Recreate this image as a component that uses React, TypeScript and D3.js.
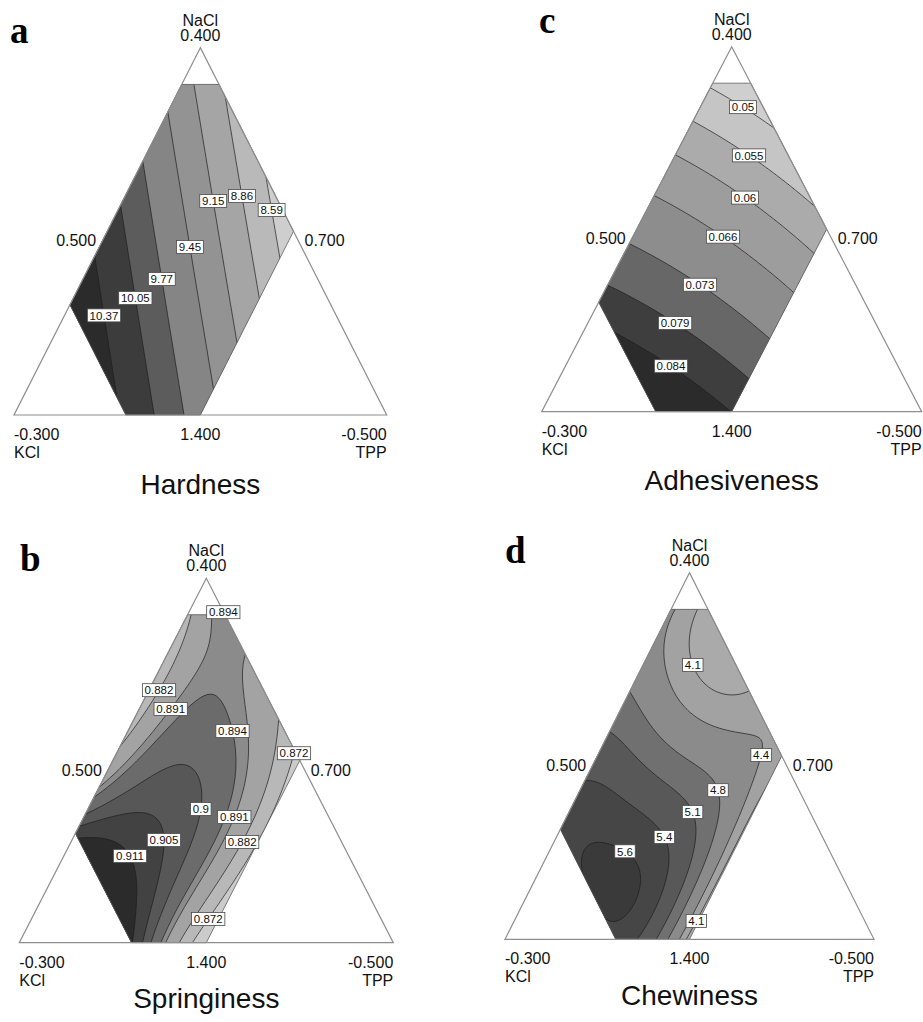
import React from "react";
import * as d3 from "d3";

// upper limits of the constrained mixture region (pseudo-components): NaCl, KCl, TPP
const upperBounds = [0.9, 0.7, 0.5];

const vertexNames = ["NaCl", "KCl", "TPP"];
const edgeTicks = ["0.400", "0.500", "0.700", "-0.300", "1.400", "-0.500"];

// ---- Hardness (a) ----
const hardnessLevels = [8.59, 8.86, 9.15, 9.45, 9.77, 10.05, 10.37];
// [level, [[NaCl, TPP], ...]]
const hardnessTraces: [number, [number, number][]][] = [
  [10.37, [[0.427, 0], [0.272, 0.104], [0.231, 0.133], [0.005, 0.295]]],
  [10.05, [[0.572, 0], [0.319, 0.168], [0.231, 0.222], [0, 0.368]]],
  [9.77, [[0.687, 0], [0.531, 0.107], [0.369, 0.219], [0.231, 0.303], [0, 0.443]]],
  [9.45, [[0.82, 0], [0.64, 0.12], [0.458, 0.243], [0.272, 0.368], [0.082, 0.493]]],
  [9.15, [[0.903, 0.038], [0.749, 0.136], [0.583, 0.238], [0.395, 0.369], [0.212, 0.498]]],
  [8.86, [[0.839, 0.155], [0.597, 0.312], [0.325, 0.496]]],
  [8.59, [[0.672, 0.324], [0.558, 0.412], [0.438, 0.496]]],
];
const hardnessSpots: [number, number, number][] = [];
const hardnessLabels: [string, number, number][] = [
  ["10.37", 0.272, 0.108], ["10.05", 0.318, 0.166], ["9.77", 0.369, 0.212],
  ["9.45", 0.458, 0.243], ["9.15", 0.583, 0.239], ["8.86", 0.597, 0.313], ["8.59", 0.558, 0.412],
];

// ---- Springiness (b) ----
const springLevels = [0.872, 0.882, 0.891, 0.894, 0.9, 0.905, 0.911];
const springTraces: [number, [number, number][]][] = [
  [0.911, [[0.294, 0.024], [0.291, 0.097], [0.27, 0.165], [0.218, 0.212], [0.14, 0.249], [0.058, 0.278], [0, 0.305]]],
  [0.905, [[0.328, 0], [0.337, 0.075], [0.328, 0.168], [0.296, 0.228], [0.232, 0.276], [0.14, 0.311], [0.058, 0.32], [0, 0.327]]],
  [0.9, [[0.355, 0], [0.405, 0.04], [0.442, 0.093], [0.465, 0.162], [0.451, 0.226], [0.396, 0.276], [0.305, 0.318], [0.195, 0.346], [0.085, 0.351], [0, 0.349]]],
  [0.894, [[0.383, 0.003], [0.488, 0.043], [0.565, 0.093], [0.634, 0.148], [0.669, 0.194], [0.634, 0.251], [0.561, 0.306], [0.469, 0.355], [0.396, 0.381], [0.323, 0.389], [0.241, 0.385], [0.149, 0.377], [0.058, 0.374], [0, 0.376]]],
  [0.894, [[0.9, 0.088], [0.886, 0.114]]],
  [0.891, [[0.899, 0.055], [0.817, 0.084], [0.726, 0.098], [0.639, 0.097], [0.579, 0.068], [0.506, 0.034], [0.442, 0.013], [0.41, 0]]],
  [0.891, [[0.876, 0.121], [0.79, 0.2], [0.689, 0.268], [0.579, 0.329], [0.469, 0.38], [0.378, 0.408], [0.25, 0.394], [0.149, 0.386], [0.058, 0.383], [0, 0.398]]],
  [0.882, [[0.899, 0.016], [0.817, 0.032], [0.693, 0.025], [0.597, 0.015], [0.5, 0]]],
  [0.882, [[0.62, 0.376], [0.524, 0.408], [0.414, 0.437], [0.273, 0.467], [0.195, 0.457], [0.122, 0.44], [0.058, 0.427], [0, 0.42]]],
  [0.872, [[0.52, 0.473], [0.451, 0.489], [0.273, 0.494], [0.177, 0.485], [0.071, 0.468], [0, 0.465]]],
];
const springSpots: [number, number, number][] = [
  [0.15, 0.18, 0.915], [0, 0.3, 0.912], [0.9, 0, 0.879], [0.7, 0, 0.879], [0, 0.5, 0.862],
  [0.5, 0.5, 0.868], [0.36, 0.2, 0.902], [0.55, 0.2, 0.897], [0.75, 0.15, 0.8925], [0.9, 0.1, 0.8955],
];
const springLabels: [string, number, number][] = [
  ["0.894", 0.907, 0.092], ["0.882", 0.693, 0.025], ["0.891", 0.634, 0.095], ["0.894", 0.581, 0.282],
  ["0.872", 0.52, 0.473], ["0.9", 0.369, 0.29], ["0.891", 0.346, 0.399], ["0.882", 0.273, 0.467],
  ["0.905", 0.282, 0.249], ["0.911", 0.245, 0.187], ["0.872", 0.071, 0.461],
];

// ---- Adhesiveness (c) ----
const adhesLevels = [0.05, 0.055, 0.06, 0.066, 0.073, 0.079, 0.084];
const adhesTraces: [number, [number, number][]][] = [
  [0.05, [[0.886, 0], [0.84, 0.115], [0.753, 0.255]]],
  [0.055, [[0.795, 0.002], [0.701, 0.194], [0.557, 0.449]]],
  [0.06, [[0.703, 0], [0.587, 0.241], [0.434, 0.502]]],
  [0.066, [[0.589, 0.003], [0.479, 0.238], [0.324, 0.505]]],
  [0.073, [[0.461, 0.006], [0.35, 0.242], [0.196, 0.503]]],
  [0.079, [[0.347, 0], [0.242, 0.23], [0.087, 0.5]]],
  [0.084, [[0.205, 0.103], [0.128, 0.278], [0.009, 0.487]]],
];
const adhesSpots: [number, number, number][] = [];
const adhesLabels: [string, number, number][] = [
  ["0.05", 0.84, 0.115], ["0.055", 0.701, 0.194], ["0.06", 0.587, 0.241], ["0.066", 0.479, 0.238],
  ["0.073", 0.35, 0.242], ["0.079", 0.242, 0.23], ["0.084", 0.128, 0.278],
];

// ---- Chewiness (d) ----
const chewLevels = [4.1, 4.4, 4.8, 5.1, 5.4, 5.6];
const chewTraces: [number, [number, number][]][] = [
  [4.1, [[0.903, 0.059], [0.853, 0.071], [0.798, 0.093], [0.748, 0.129], [0.707, 0.175], [0.68, 0.225], [0.666, 0.286], [0.666, 0.331]]],
  [4.1, [[0.3, 0.493], [0.2, 0.49], [0.1, 0.488], [0, 0.488]]],
  [4.4, [[0.898, 0.012], [0.835, 0.021], [0.762, 0.048], [0.689, 0.103], [0.635, 0.175], [0.589, 0.261], [0.562, 0.338], [0.516, 0.424], [0.471, 0.451], [0.38, 0.47], [0.289, 0.475], [0.198, 0.475], [0.107, 0.474], [0, 0.474]]],
  [4.8, [[0.689, 0.004], [0.616, 0.058], [0.562, 0.13], [0.507, 0.229], [0.471, 0.312], [0.407, 0.368], [0.334, 0.411], [0.244, 0.443], [0.153, 0.452], [0.062, 0.452], [0, 0.454]]],
  [5.1, [[0.571, 0], [0.525, 0.058], [0.471, 0.14], [0.426, 0.225], [0.38, 0.293], [0.339, 0.333], [0.289, 0.365], [0.198, 0.402], [0.107, 0.411], [0, 0.409]]],
  [5.4, [[0.416, 0], [0.398, 0.077], [0.371, 0.162], [0.325, 0.239], [0.278, 0.286], [0.216, 0.321], [0.125, 0.348], [0.053, 0.353], [0, 0.361]]],
  [5.6, [[0.216, 0.082], [0.262, 0.09], [0.28, 0.136], [0.269, 0.199], [0.216, 0.249], [0.171, 0.276], [0.116, 0.29], [0.08, 0.281], [0.062, 0.249]]],
];
const chewSpots: [number, number, number][] = [
  [0.17, 0.19, 5.72], [0.9, 0.1, 3.95], [0.8, 0.2, 3.95], [0.9, 0, 4.5], [0, 0.5, 3.9],
  [0.5, 0.5, 4.25], [0.6, 0.4, 4.25], [0.3, 0, 5.5], [0, 0.3, 5.5],
];
const chewLabels: [string, number, number][] = [
  ["4.1", 0.748, 0.136], ["4.4", 0.505, 0.437], ["4.8", 0.405, 0.369], ["5.1", 0.344, 0.329],
  ["5.4", 0.278, 0.289], ["5.6", 0.268, 0.21], ["4.1", 0.054, 0.483],
];

// layout + greys (low value -> high value)
const panels = [
  { letter: "a", title: "Hardness", levels: hardnessLevels, traces: hardnessTraces, spots: hardnessSpots, labels: hardnessLabels, degree: 2,
    left: 14, right: 386.7, base: 415, apex: 47.7, letterX: 10, letterY: 43, titleY: 494,
    greys: ["#cecece", "#b9b9b9", "#a5a5a5", "#939393", "#858585", "#5c5c5c", "#3c3c3c", "#2b2b2b"] },
  { letter: "b", title: "Springiness", levels: springLevels, traces: springTraces, spots: springSpots, labels: springLabels, degree: 4,
    left: 19.3, right: 393.3, base: 942.7, apex: 578.3, letterX: 20, letterY: 571, titleY: 1008,
    greys: ["#cbcbcb", "#b8b8b8", "#a3a3a3", "#8b8b8b", "#6b6b6b", "#575757", "#424242", "#2b2b2b"] },
  { letter: "c", title: "Adhesiveness", levels: adhesLevels, traces: adhesTraces, spots: adhesSpots, labels: adhesLabels, degree: 2,
    left: 541.7, right: 921.7, base: 411.7, apex: 46.7, letterX: 539, letterY: 33, titleY: 490,
    greys: ["#cfcfcf", "#c5c5c5", "#ababab", "#9d9d9d", "#8d8d8d", "#676767", "#3e3e3e", "#2b2b2b"] },
  { letter: "d", title: "Chewiness", levels: chewLevels, traces: chewTraces, spots: chewSpots, labels: chewLabels, degree: 4,
    left: 505, right: 874, base: 939.3, apex: 572.7, letterX: 505, letterY: 563, titleY: 1005,
    greys: ["#aaaaaa", "#a2a2a2", "#8b8b8b", "#707070", "#585858", "#464646", "#3a3a3a"] },
];

const sans = "'Liberation Sans', Arial, sans-serif";

// least squares polynomial surface in the triangle plane (X = TPP + NaCl/2, Y = NaCl)
function fitSurface(samples: number[][], degree: number) {
  const terms: number[][] = [];
  for (let d = 0; d <= degree; d++) for (let q = 0; q <= d; q++) terms.push([d - q, q]);
  const m = terms.length;
  const feat = (X: number, Y: number) => {
    const u = X - 0.45, v = Y - 0.45;
    return terms.map(([a, b]) => Math.pow(u, a) * Math.pow(v, b));
  };
  const A = terms.map(() => new Array(m).fill(0));
  const rhs = new Array(m).fill(0);
  samples.forEach(([X, Y, val]) => {
    const f = feat(X, Y);
    for (let i = 0; i < m; i++) {
      rhs[i] += f[i] * val;
      for (let j = 0; j < m; j++) A[i][j] += f[i] * f[j];
    }
  });
  for (let i = 0; i < m; i++) A[i][i] += 1e-9;
  // gaussian elimination
  for (let c = 0; c < m; c++) {
    let piv = c;
    for (let r = c + 1; r < m; r++) if (Math.abs(A[r][c]) > Math.abs(A[piv][c])) piv = r;
    [A[c], A[piv]] = [A[piv], A[c]];
    [rhs[c], rhs[piv]] = [rhs[piv], rhs[c]];
    for (let r = c + 1; r < m; r++) {
      const k = A[r][c] / A[c][c];
      for (let j = c; j < m; j++) A[r][j] -= k * A[c][j];
      rhs[r] -= k * rhs[c];
    }
  }
  const coef = new Array(m).fill(0);
  for (let r = m - 1; r >= 0; r--) {
    let s = rhs[r];
    for (let j = r + 1; j < m; j++) s -= A[r][j] * coef[j];
    coef[r] = s / A[r][r];
  }
  return (X: number, Y: number) => {
    const f = feat(X, Y);
    let s = 0;
    for (let i = 0; i < m; i++) s += coef[i] * f[i];
    return s;
  };
}

const textWidth = (s: string, size: number) =>
  s.split("").reduce((w, ch) => w + (ch === "." ? 0.278 : ch === "-" ? 0.333 : 0.556), 0) * size;

function Panel({ p }: { p: any }) {
  const x = d3.scaleLinear().domain([0, 1]).range([p.left, p.right]);
  const y = d3.scaleLinear().domain([0, 1]).range([p.base, p.apex]);
  const pt = (n: number, t: number) => [x(t + n / 2), y(n)];

  const samples: number[][] = [];
  p.traces.forEach(([lv, pts]: any) => pts.forEach(([n, t]: number[]) => samples.push([t + n / 2, n, lv])));
  p.spots.forEach(([n, t, v]: number[]) => samples.push([t + n / 2, n, v]));
  const surface = fitSurface(samples, p.degree);

  const pad = 4;
  const ox = Math.floor(p.left) - pad, oy = Math.floor(p.apex) - pad;
  const cols = Math.ceil(p.right) + pad - ox + 1;
  const rows = Math.ceil(p.base) + pad - oy + 1;
  const values: number[] = new Array(cols * rows);
  for (let j = 0; j < rows; j++)
    for (let i = 0; i < cols; i++) values[j * cols + i] = surface(x.invert(ox + i), y.invert(oy + j));
  const contours = d3.contours().size([cols, rows]).thresholds(p.levels)(values);
  const proj = d3.geoTransform({
    point(gx: number, gy: number) {
      (this as any).stream.point(ox + gx - 0.5, oy + gy - 0.5);
    },
  });
  const path = d3.geoPath(proj as any);

  const [nMax, kMax, tMax] = upperBounds;
  const regionPts = [[nMax, 0], [nMax, 1 - nMax], [1 - tMax, tMax], [0, tMax], [0, 1 - kMax], [1 - kMax, 0]].map(([n, t]) => pt(n, t));
  const regionD = "M" + regionPts.map((q) => q.join(",")).join("L") + "Z";
  const tri = [pt(1, 0), pt(0, 0), pt(0, 1)];
  const triD = "M" + tri.map((q) => q.join(",")).join("L") + "Z";
  const clipId = "clip-" + p.letter;

  // place labels on the nearest point of their contour
  const labels = p.labels.map(([txt, n, t]: any) => {
    const idx = p.levels.indexOf(+txt);
    const a = pt(n, t);
    let best = a, bd = 625;
    contours[idx].coordinates.forEach((poly: any) =>
      poly.forEach((ring: any) =>
        ring.forEach(([gx, gy]: number[]) => {
          const q = [ox + gx - 0.5, oy + gy - 0.5];
          const d = (q[0] - a[0]) ** 2 + (q[1] - a[1]) ** 2;
          if (d < bd && d3.polygonContains(regionPts as any, q as any)) { bd = d; best = q; }
        })
      )
    );
    return { txt, pos: best };
  });

  const apex = pt(1, 0), left = pt(0, 0), right = pt(0, 1);
  const leftMid = pt(0.5, 0), rightMid = pt(0.5, 0.5), baseMid = pt(0, 0.5);
  const fs = 16;
  return (
    <g>
      <defs>
        <clipPath id={clipId}><path d={regionD} /></clipPath>
      </defs>
      <path d={triD} fill="#fff" stroke="none" />
      <g clipPath={`url(#${clipId})`}>
        <path d={regionD} fill={p.greys[0]} />
        {contours.map((c: any, i: number) => (
          <path key={"f" + i} d={path(c) || ""} fill={p.greys[i + 1]} stroke="none" />
        ))}
        {contours.map((c: any, i: number) => (
          <path key={"s" + i} d={path(c) || ""} fill="none" stroke="#1e1e1e" strokeWidth={0.7} />
        ))}
      </g>
      <path d={regionD} fill="none" stroke="#5a5a5a" strokeWidth={0.8} />
      <path d={triD} fill="none" stroke="#8e8e8e" strokeWidth={1.2} />
      {labels.map((l: any, i: number) => {
        const w = textWidth(l.txt, 11.5) + 4.5;
        return (
          <g key={"l" + i} transform={`translate(${l.pos[0]},${l.pos[1]})`}>
            <rect x={-w / 2} y={-6.5} width={w} height={13} fill="#fff" stroke="#4a4a4a" strokeWidth={0.8} />
            <text x={0} y={4.2} textAnchor="middle" fontFamily={sans} fontSize={11.5} fill="#111">{l.txt}</text>
          </g>
        );
      })}
      <g fontFamily={sans} fontSize={fs} fill="#111">
        <text x={apex[0]} y={apex[1] - 22} textAnchor="middle">{vertexNames[0]}</text>
        <text x={apex[0]} y={apex[1] - 7} textAnchor="middle">{edgeTicks[0]}</text>
        <text x={leftMid[0] - 11} y={leftMid[1] + 15} textAnchor="end">{edgeTicks[1]}</text>
        <text x={rightMid[0] + 11} y={rightMid[1] + 15} textAnchor="start">{edgeTicks[2]}</text>
        <text x={left[0]} y={left[1] + 25} textAnchor="start">{edgeTicks[3]}</text>
        <text x={left[0]} y={left[1] + 43} textAnchor="start">{vertexNames[1]}</text>
        <text x={baseMid[0]} y={baseMid[1] + 25} textAnchor="middle">{edgeTicks[4]}</text>
        <text x={right[0]} y={right[1] + 25} textAnchor="end">{edgeTicks[5]}</text>
        <text x={right[0]} y={right[1] + 43} textAnchor="end">{vertexNames[2]}</text>
      </g>
      <text x={baseMid[0]} y={p.titleY} textAnchor="middle" fontFamily={sans} fontSize={28} fill="#111">{p.title}</text>
      <text x={p.letterX} y={p.letterY} fontFamily="'Liberation Serif', 'Times New Roman', serif" fontWeight="bold" fontSize={37} fill="#000">{p.letter}</text>
    </g>
  );
}

export default function App() {
  return (
    <svg width={923} height={1022} style={{ position: "absolute", left: 0, top: 0, background: "#fff" }}>
      <rect width={923} height={1022} fill="#fff" />
      {panels.map((p) => <Panel key={p.letter} p={p} />)}
    </svg>
  );
}
